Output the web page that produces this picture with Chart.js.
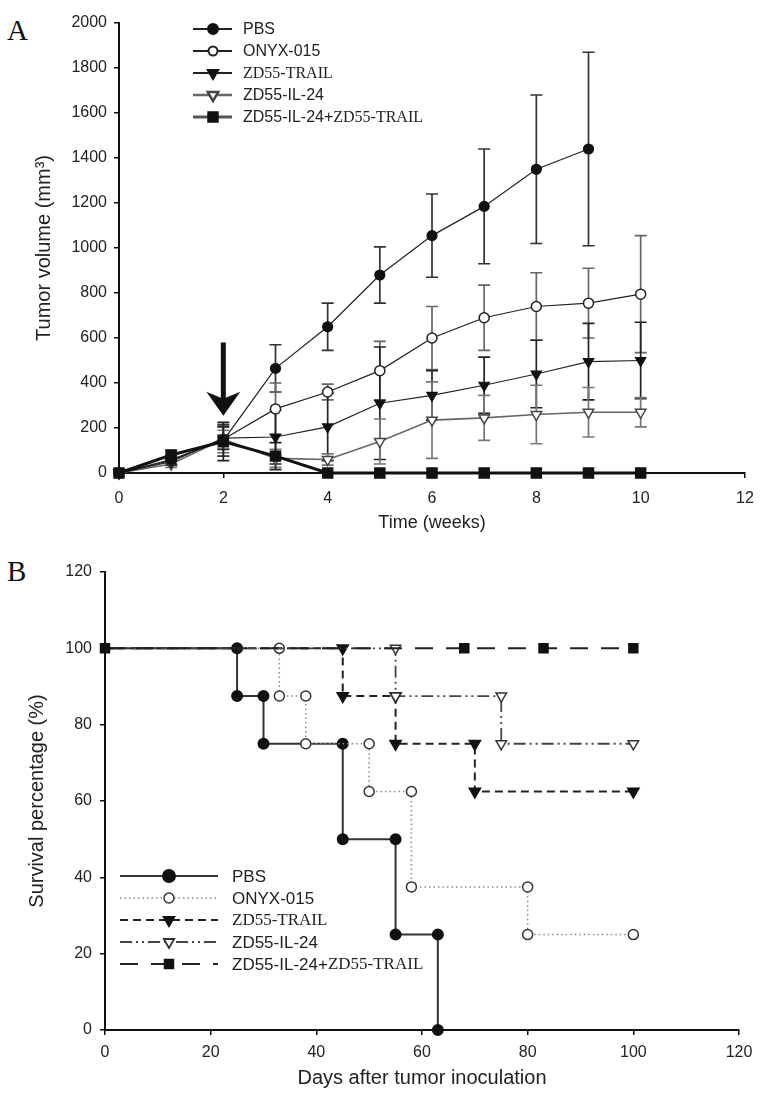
<!DOCTYPE html>
<html lang="en">
<head>
<meta charset="UTF-8" />
<title>Tumor volume and survival</title>
<script src="https://cdn.jsdelivr.net/npm/chart.js"></script>
<style>
  body {
    margin: 0;
    background: #fff;
    width: 769px;
    height: 1110px;
    position: relative;
    overflow: hidden;
  }
  .panel-label {
    position: absolute;
    left: 7px;
    font-family: "Liberation Serif", "Times New Roman", serif;
    font-size: 29px;
    line-height: 1;
    color: #111;
  }
  #chartA { position: absolute; left: 0; top: 0; }
  #chartB { position: absolute; left: 0; top: 545px; }
</style>
</head>
<body>
<div class="panel-label" style="top:16px">A</div>
<div class="panel-label" style="top:557px">B</div>
<canvas id="chartA" width="769" height="545"></canvas>
<canvas id="chartB" width="769" height="565"></canvas>

<script>
// ---- panel A: tumour volume (mm3) per week, with error bars
const weeks = [0, 1, 2, 3, 4, 5, 6, 7, 8, 9, 10];
const pbsVol   = [0, 60, 145, 465, 650, 880, 1055, 1185, 1350, 1440];
const pbsErr   = [0, 20, 70, 105, 105, 125, 185, 255, 330, 430];
const onyxVol  = [0, 55, 150, 285, 360, 455, 600, 690, 740, 755, 795];
const onyxErr  = [0, 20, 60, 115, 35, 130, 140, 145, 150, 155, 260];
const trailVol = [0, 50, 155, 160, 205, 310, 345, 390, 440, 495, 500];
const trailErr = [0, 15, 50, 120, 150, 250, 110, 125, 150, 170, 170];
const il24Vol  = [0, 40, 150, 65, 60, 140, 235, 245, 260, 270, 270];
const il24Err  = [0, 15, 40, 40, 25, 100, 170, 100, 130, 110, 65];
const comboVol = [0, 80, 140, 75, 0, 0, 0, 0, 0, 0, 0];
const comboErr = [0, 20, 85, 60, 0, 0, 0, 0, 0, 0, 0];
const arrowWeek = 2, arrowFrom = 580, arrowTo = 255;

// ---- panel B: survival (%) step curves
const pbsDays   = [25, 30, 45, 55, 63];
const pbsSurv   = [87.5, 75, 50, 25, 0];
const onyxDays  = [33, 38, 50, 58, 80];
const onyxSurv  = [87.5, 75, 62.5, 37.5, 25];
const trailDays = [45, 55, 70];
const trailSurv = [87.5, 75, 62.5];
const il24Days  = [55, 75];
const il24Surv  = [87.5, 75];
const comboMarks = [0, 68, 83, 100];
const lastDay = 100;

const seriesNames = ['PBS', 'ONYX-015', 'ZD55-TRAIL', 'ZD55-IL-24', 'ZD55-IL-24+ZD55-TRAIL'];

const SANS = '"Liberation Sans", Arial, sans-serif';
const SERIF = '"Liberation Serif", "Times New Roman", serif';

function pts(xs, ys) {
  return ys.map((y, i) => ({ x: xs[i], y: y }));
}

function kmPoints(days, surv, endDay) {
  const p = [{ x: 0, y: 100 }];
  let prev = 100;
  days.forEach((d, i) => {
    p.push({ x: d, y: prev });
    p.push({ x: d, y: surv[i] });
    prev = surv[i];
  });
  if (endDay != null) p.push({ x: endDay, y: prev });
  return p;
}

// error bars, drawn under the markers
const errorBars = {
  id: 'errorBars',
  beforeDatasetsDraw(chart) {
    const { ctx, scales: { x, y } } = chart;
    chart.data.datasets.forEach(ds => {
      if (!ds.err) return;
      ctx.save();
      ctx.strokeStyle = ds.errColor;
      ctx.lineWidth = 1.7;
      ds.data.forEach((p, j) => {
        const e = ds.err[j];
        if (!e) return;
        const px = x.getPixelForValue(p.x);
        const top = y.getPixelForValue(p.y + e);
        const bot = y.getPixelForValue(Math.max(0, p.y - e));
        ctx.beginPath();
        ctx.moveTo(px, top); ctx.lineTo(px, bot);
        ctx.moveTo(px - 6, top); ctx.lineTo(px + 6, top);
        ctx.moveTo(px - 6, bot); ctx.lineTo(px + 6, bot);
        ctx.stroke();
      });
      ctx.restore();
    });
  }
};

// injection arrow at week 2
const arrow = {
  id: 'arrow',
  afterDatasetsDraw(chart) {
    const { ctx, scales: { x, y } } = chart;
    const px = x.getPixelForValue(arrowWeek);
    const top = y.getPixelForValue(arrowFrom);
    const tip = y.getPixelForValue(arrowTo);
    ctx.save();
    ctx.fillStyle = '#111';
    ctx.fillRect(px - 2.5, top, 5, tip - top - 12);
    ctx.beginPath();
    ctx.moveTo(px, tip);
    ctx.lineTo(px - 17, tip - 24);
    ctx.lineTo(px, tip - 17);
    ctx.lineTo(px + 17, tip - 24);
    ctx.closePath();
    ctx.fill();
    ctx.restore();
  }
};

// legend with line sample + marker, and the serif "ZD55-TRAIL" part
function makeLegend(id, box) {
  return {
    id: id,
    afterDraw(chart) {
      const ctx = chart.ctx;
      chart.data.datasets.forEach((ds, i) => {
        const yy = box.y0 + i * box.step;
        ctx.save();
        ctx.strokeStyle = ds.legendColor || ds.borderColor;
        ctx.lineWidth = ds.legendWidth || ds.borderWidth;
        ctx.setLineDash(ds.borderDash || []);
        ctx.beginPath();
        ctx.moveTo(box.x0, yy);
        ctx.lineTo(box.x1, yy);
        ctx.stroke();
        ctx.setLineDash([]);
        ctx.fillStyle = ds.pointBackgroundColor;
        ctx.strokeStyle = ds.pointBorderColor;
        Chart.helpers.drawPoint(ctx, {
          pointStyle: ds.pointStyle,
          radius: ds.legendRadius,
          rotation: ds.pointRotation || 0,
          borderWidth: 1.5
        }, box.mx, yy);
        ctx.fillStyle = '#222';
        ctx.textBaseline = 'middle';
        let tx = box.tx;
        ds.label.split(/(ZD55-TRAIL)/).forEach(part => {
          if (!part) return;
          ctx.font = (part === 'ZD55-TRAIL' ? box.size + 'px ' + SERIF : box.size + 'px ' + SANS);
          ctx.fillText(part, tx, yy + 1);
          tx += ctx.measureText(part).width;
        });
        ctx.restore();
      });
    }
  };
}

function axis(min, max, step, title, titleSize, tickPad, fit) {
  return {
    type: 'linear',
    min: min,
    max: max,
    ticks: {
      stepSize: step, color: '#222', padding: tickPad,
      font: { family: SANS, size: 16 },
      callback: v => String(v)
    },
    grid: { drawOnChartArea: false, drawTicks: true, tickLength: 5, color: '#111', lineWidth: 1.5 },
    border: { color: '#111', width: 2 },
    title: { display: true, text: title, color: '#222', padding: 0, font: { family: SANS, size: titleSize } },
    afterFit: fit
  };
}

// ---------- Chart A
new Chart(document.getElementById('chartA'), {
  type: 'line',
  data: {
    datasets: [
      { label: seriesNames[0], data: pts(weeks, pbsVol), err: pbsErr, errColor: '#333',
        borderColor: '#222', borderWidth: 1.2, legendWidth: 2, pointStyle: 'circle', pointRadius: 5, legendRadius: 5,
        pointBackgroundColor: '#111', pointBorderColor: '#111', order: 2 },
      { label: seriesNames[1], data: pts(weeks, onyxVol), err: onyxErr, errColor: '#666',
        borderColor: '#222', borderWidth: 1.2, legendWidth: 2, pointStyle: 'circle', pointRadius: 5, legendRadius: 4.5,
        pointBackgroundColor: '#fff', pointBorderColor: '#222', pointBorderWidth: 1.5, order: 3 },
      { label: seriesNames[2], data: pts(weeks, trailVol), err: trailErr, errColor: '#222',
        borderColor: '#222', borderWidth: 1.2, legendWidth: 2, pointStyle: 'triangle', pointRotation: 180, pointRadius: 6, legendRadius: 6,
        pointBackgroundColor: '#111', pointBorderColor: '#111', order: 4 },
      { label: seriesNames[3], data: pts(weeks, il24Vol), err: il24Err, errColor: '#777',
        borderColor: '#666', borderWidth: 1.6, legendWidth: 2.5, pointStyle: 'triangle', pointRotation: 180, pointRadius: 6, legendRadius: 6,
        pointBackgroundColor: '#fff', pointBorderColor: '#444', pointBorderWidth: 1.5, order: 5 },
      { label: seriesNames[4], data: pts(weeks, comboVol), err: comboErr, errColor: '#222',
        borderColor: '#111', borderWidth: 3, legendColor: '#555', pointStyle: 'rect', pointRadius: 6, legendRadius: 6,
        pointBackgroundColor: '#111', pointBorderColor: '#111', order: 1 }
    ]
  },
  options: {
    responsive: false,
    animation: false,
    clip: false,
    layout: { padding: { left: 32, right: 24, top: 23, bottom: 11 } },
    plugins: { legend: { display: false }, tooltip: { enabled: false } },
    scales: {
      x: axis(0, 12, 2, 'Time (weeks)', 18, 11, s => { s.height = 61; }),
      y: axis(0, 2000, 200, 'Tumor volume (mm³)', 20, 7, s => { s.width = 87; })
    }
  },
  plugins: [errorBars, arrow, makeLegend('legendA', { x0: 193, x1: 232, mx: 213, tx: 243, y0: 29, step: 22, size: 16 })]
});

// ---------- Chart B
new Chart(document.getElementById('chartB'), {
  type: 'line',
  data: {
    datasets: [
      { label: seriesNames[0], data: kmPoints(pbsDays, pbsSurv, null),
        borderColor: '#333', borderWidth: 2, pointStyle: 'circle', legendRadius: 6,
        pointRadius: c => (c.dataIndex === 0 ? 0 : 5),
        pointBackgroundColor: '#111', pointBorderColor: '#111', order: 5 },
      { label: seriesNames[1], data: kmPoints(onyxDays, onyxSurv, lastDay),
        borderColor: '#888', borderWidth: 1.5, borderDash: [1.5, 3], pointStyle: 'circle', legendRadius: 5,
        pointRadius: c => (c.dataIndex === 0 ? 0 : 5),
        pointBackgroundColor: '#fff', pointBorderColor: '#333', pointBorderWidth: 1.5, order: 4 },
      { label: seriesNames[2], data: kmPoints(trailDays, trailSurv, lastDay),
        borderColor: '#222', borderWidth: 2, borderDash: [8, 5], pointStyle: 'triangle', pointRotation: 180, legendRadius: 6,
        pointRadius: c => (c.dataIndex === 0 ? 0 : 6),
        pointBackgroundColor: '#111', pointBorderColor: '#111', order: 3 },
      { label: seriesNames[3], data: kmPoints(il24Days, il24Surv, lastDay),
        borderColor: '#444', borderWidth: 1.8, borderDash: [12, 4, 2, 4, 2, 4], pointStyle: 'triangle', pointRotation: 180, legendRadius: 6,
        pointRadius: c => (c.dataIndex === 0 ? 0 : 6),
        pointBackgroundColor: '#fff', pointBorderColor: '#333', pointBorderWidth: 1.5, order: 2 },
      { label: seriesNames[4], data: comboMarks.map(d => ({ x: d, y: 100 })),
        borderColor: '#222', borderWidth: 2, borderDash: [18, 13], pointStyle: 'rect', legendRadius: 6,
        pointRadius: 6,
        pointBackgroundColor: '#111', pointBorderColor: '#111', order: 1 }
    ]
  },
  options: {
    responsive: false,
    animation: false,
    clip: false,
    layout: { padding: { left: 25, right: 30, top: 27, bottom: 20 } },
    plugins: { legend: { display: false }, tooltip: { enabled: false } },
    scales: {
      x: axis(0, 120, 20, 'Days after tumor inoculation', 20, 8, s => { s.height = 60; }),
      y: axis(0, 120, 20, 'Survival percentage (%)', 20, 8, s => { s.width = 80; })
    }
  },
  plugins: [makeLegend('legendB', { x0: 120, x1: 218, mx: 169, tx: 232, y0: 331, step: 22, size: 17 })]
});
</script>
</body>
</html>
